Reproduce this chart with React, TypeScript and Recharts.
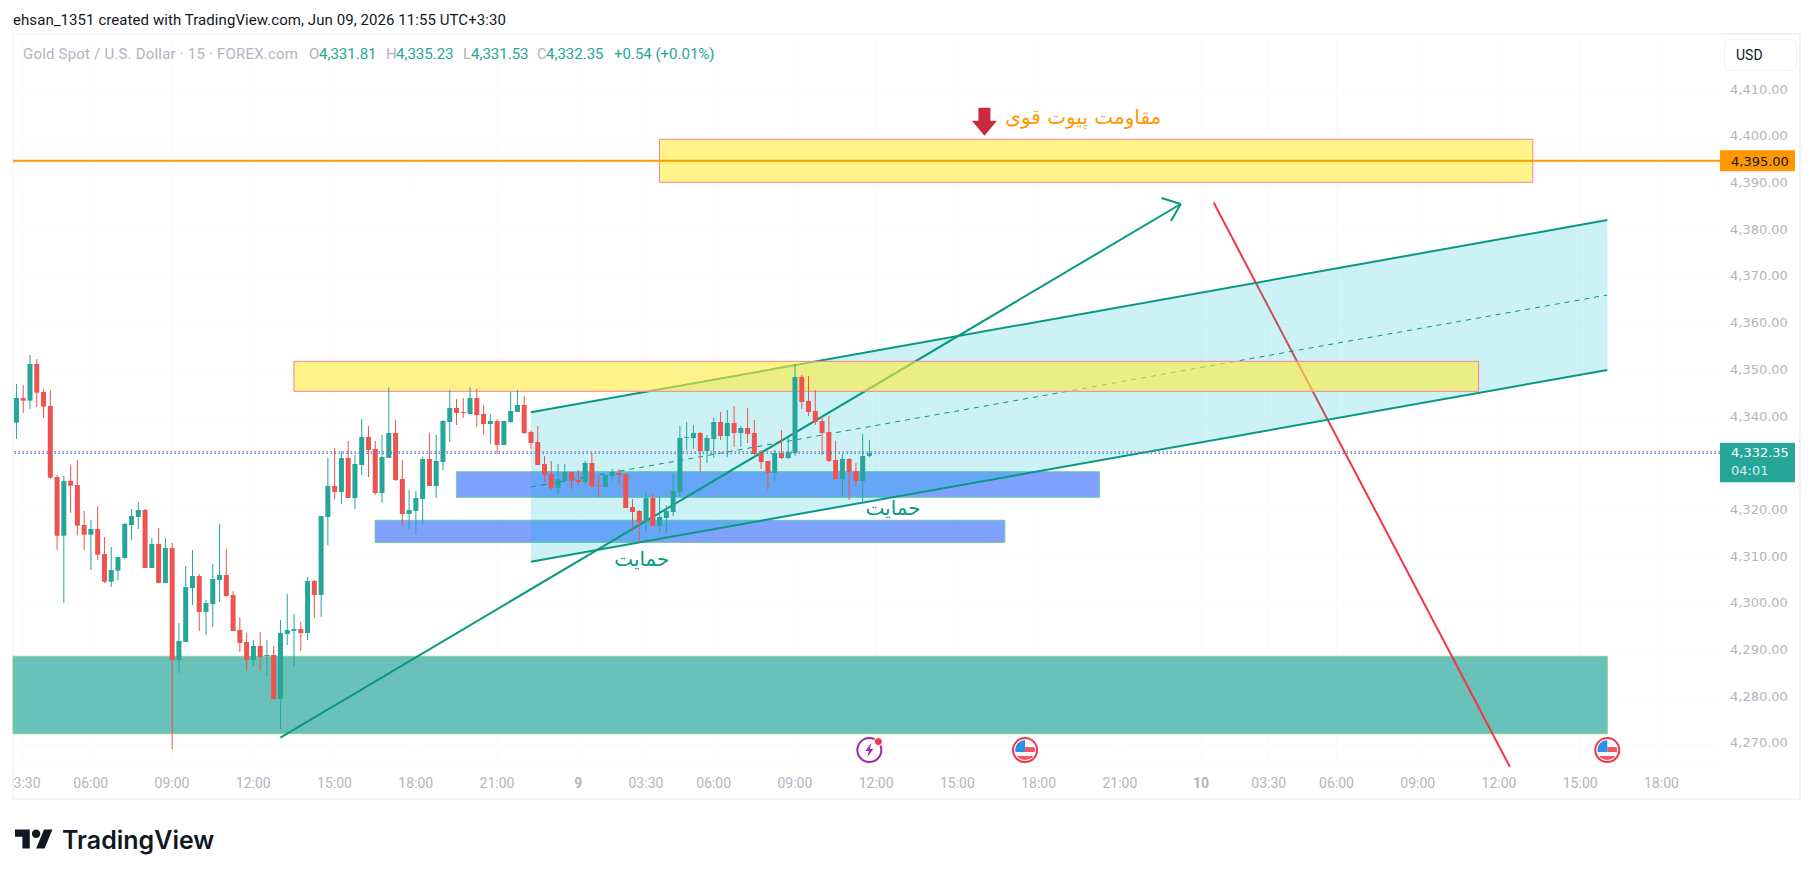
import React from "react";
import {
  ComposedChart,
  Bar,
  Area,
  XAxis,
  YAxis,
  CartesianGrid,
  ReferenceArea,
  ReferenceLine,
  ReferenceDot,
} from "recharts";

const opens = [
  4338.91, 4344.19, 4343.62, 4351.47, 4345.47, 4342.48, 4327.27, 4314.71, 4326.42, 4325.56,
  4316.99, 4314.92, 4316.14, 4310.78, 4304.86, 4307.22, 4309.93, 4316.99, 4318.71, 4320.21,
  4307.79, 4312.93, 4304.57, 4312.07, 4288.09, 4291.94, 4303.5, 4306.07, 4298.36, 4300.08,
  4305.22, 4306.29, 4302.0, 4294.51, 4291.94, 4288.09, 4291.08, 4288.94, 4289.16, 4279.73,
  4293.65, 4294.3, 4294.72, 4293.87, 4305.0, 4302.0, 4318.71, 4325.35, 4324.06, 4331.34,
  4322.78, 4329.84, 4335.84, 4333.27, 4323.85, 4331.34, 4336.69, 4326.84, 4319.35, 4319.99,
  4322.56, 4331.13, 4325.35, 4330.48, 4339.05, 4342.05, 4341.19, 4340.76, 4344.19, 4340.76,
  4338.62, 4339.26, 4334.13, 4339.05, 4341.19, 4342.69, 4336.91, 4334.77, 4330.06, 4327.92,
  4324.92, 4326.42, 4328.34, 4326.63, 4326.2, 4330.27, 4325.56, 4325.13, 4327.49, 4328.13,
  4327.92, 4320.85, 4319.99, 4317.64, 4322.78, 4316.78, 4318.49, 4319.78, 4324.06, 4335.7,
  4335.62, 4336.69, 4332.84, 4335.41, 4339.05, 4336.05, 4338.84, 4336.69, 4337.77, 4336.69,
  4332.41, 4330.7, 4328.13, 4332.41, 4331.34, 4332.41, 4348.69, 4343.55, 4341.41, 4339.26,
  4336.91, 4330.91, 4326.84, 4331.13, 4328.56, 4326.42, 4331.81,
];
const highs = [
  4347.19, 4346.97, 4353.4, 4352.54, 4346.12, 4345.9, 4327.7, 4327.49, 4329.84, 4330.91,
  4319.99, 4318.06, 4321.06, 4314.42, 4312.28, 4310.14, 4317.42, 4320.42, 4321.92, 4320.42,
  4314.21, 4316.35, 4314.21, 4313.14, 4296.01, 4308.21, 4311.64, 4306.5, 4300.93, 4308.64,
  4317.21, 4311.85, 4302.86, 4297.29, 4293.87, 4292.37, 4294.08, 4292.37, 4291.08, 4296.65,
  4302.22, 4297.94, 4296.22, 4305.86, 4305.22, 4318.92, 4331.34, 4333.48, 4332.84, 4334.98,
  4331.98, 4339.69, 4338.19, 4334.98, 4336.27, 4346.55, 4339.48, 4330.91, 4324.49, 4324.28,
  4331.56, 4336.69, 4336.27, 4339.48, 4345.9, 4343.98, 4344.19, 4346.55, 4346.12, 4342.69,
  4340.76, 4339.69, 4339.26, 4345.47, 4345.9, 4344.62, 4337.34, 4338.19, 4331.77, 4330.7,
  4330.06, 4330.06, 4328.34, 4328.77, 4330.7, 4332.41, 4327.7, 4327.7, 4328.99, 4328.99,
  4327.92, 4322.56, 4320.21, 4323.85, 4323.63, 4323.13, 4321.21, 4328.13, 4338.19, 4339.05,
  4338.41, 4336.91, 4336.27, 4339.91, 4341.19, 4341.62, 4342.48, 4338.19, 4342.05, 4339.48,
  4333.05, 4330.7, 4333.05, 4337.34, 4335.62, 4351.47, 4349.12, 4348.9, 4345.9, 4340.34,
  4340.34, 4334.98, 4332.2, 4331.34, 4330.27, 4336.48, 4335.23,
];
const lows = [
  4335.41, 4340.98, 4341.83, 4342.26, 4339.91, 4326.84, 4311.64, 4300.29, 4319.56, 4314.85,
  4311.64, 4307.36, 4309.5, 4304.57, 4303.72, 4305.22, 4309.71, 4313.78, 4316.14, 4307.79,
  4307.79, 4304.57, 4304.57, 4269.03, 4285.3, 4291.94, 4299.86, 4294.3, 4293.44, 4295.15,
  4300.51, 4301.58, 4294.3, 4289.8, 4285.73, 4286.8, 4285.73, 4284.66, 4279.73, 4273.31,
  4291.3, 4286.59, 4290.01, 4292.37, 4297.08, 4297.29, 4312.71, 4322.56, 4321.49, 4322.78,
  4320.42, 4327.7, 4327.27, 4323.42, 4321.71, 4331.34, 4326.42, 4316.78, 4316.14, 4315.07,
  4317.21, 4325.35, 4322.78, 4328.77, 4334.77, 4338.41, 4339.91, 4340.76, 4337.98, 4336.27,
  4334.34, 4332.2, 4334.13, 4338.84, 4341.19, 4336.48, 4333.27, 4329.84, 4326.2, 4324.49,
  4323.63, 4326.42, 4324.7, 4325.56, 4325.77, 4324.7, 4322.99, 4325.13, 4326.42, 4325.56,
  4320.63, 4315.5, 4313.14, 4315.5, 4316.78, 4315.28, 4315.28, 4318.92, 4322.99, 4333.05,
  4333.27, 4328.34, 4330.27, 4331.34, 4335.2, 4331.56, 4333.7, 4333.7, 4334.55, 4331.98,
  4328.99, 4324.49, 4326.42, 4331.13, 4331.13, 4331.77, 4341.83, 4340.34, 4338.41, 4331.98,
  4330.48, 4326.84, 4323.2, 4322.35, 4325.35, 4321.71, 4331.53,
];
const closes = [
  4344.19, 4343.62, 4351.47, 4345.33, 4342.33, 4327.13, 4314.71, 4326.42, 4325.42, 4316.85,
  4314.92, 4316.14, 4310.64, 4304.86, 4307.36, 4310.14, 4317.21, 4318.92, 4320.21, 4307.79,
  4312.93, 4304.57, 4312.07, 4288.09, 4292.15, 4303.72, 4306.07, 4298.36, 4300.29, 4305.43,
  4306.29, 4301.79, 4294.3, 4291.73, 4288.09, 4291.08, 4288.73, 4289.16, 4279.73, 4293.87,
  4294.51, 4294.72, 4293.87, 4305.0, 4302.0, 4318.92, 4325.35, 4324.06, 4331.34, 4322.78,
  4330.06, 4335.84, 4333.05, 4323.85, 4331.56, 4336.69, 4326.63, 4319.35, 4320.21, 4322.78,
  4331.13, 4325.35, 4330.7, 4339.26, 4342.05, 4340.98, 4340.98, 4344.19, 4340.55, 4338.62,
  4339.26, 4334.13, 4339.26, 4341.41, 4342.69, 4336.69, 4334.55, 4329.84, 4327.7, 4324.92,
  4326.84, 4328.34, 4326.42, 4326.2, 4330.27, 4325.35, 4325.35, 4327.7, 4328.13, 4327.7,
  4320.63, 4319.78, 4317.64, 4322.78, 4316.78, 4318.71, 4319.99, 4324.27, 4335.62, 4335.84,
  4336.69, 4332.84, 4335.62, 4339.05, 4336.05, 4338.84, 4336.69, 4337.77, 4336.48, 4332.2,
  4330.48, 4328.13, 4332.41, 4331.34, 4332.63, 4348.69, 4343.33, 4341.19, 4339.05, 4336.69,
  4330.7, 4326.84, 4331.13, 4328.34, 4326.42, 4331.77, 4332.35,
];

// bar index -> label on the time axis
const timeTicks = [1, 11, 23, 35, 47, 59, 71, 83, 93, 103, 115, 127, 139, 151, 163, 175, 185, 195, 207, 219, 231, 243];
const timeLabels = [
  "03:30", "06:00", "09:00", "12:00", "15:00", "18:00", "21:00", "9", "03:30", "06:00", "09:00",
  "12:00", "15:00", "18:00", "21:00", "10", "03:30", "06:00", "09:00", "12:00", "15:00", "18:00",
];
// 4330 sits behind the last price tag in the original
const priceTicks = [4270, 4280, 4290, 4300, 4310, 4320, 4340, 4350, 4360, 4370, 4380, 4390, 4400, 4410];

const channelX = [76, 235];
const channelLow = [4309.13, 4350.18];
const channelMid = [4325.13, 4366.24];
const channelHigh = [4341.12, 4382.3];

const lastPrice = 4332.35;
const prevClose = 4332.69;
const pivotPrice = 4395;

const UP = "#26a69a";
const DOWN = "#ef5350";
const DRAW_GREEN = "#089981";
const GREY = "#b2b5be";

const rows = opens.map((open, i) => ({
  i,
  open,
  high: highs[i],
  low: lows[i],
  close: closes[i],
  range: [lows[i], highs[i]],
}));

const channelRows = channelX.map((x, k) => ({ i: x, channel: [channelLow[k], channelHigh[k]] }));

const fmt = (v: number) =>
  v.toLocaleString("en-US", { minimumFractionDigits: 2, maximumFractionDigits: 2 });

const Candle = (props: any) => {
  const { x, y, width, height, payload } = props;
  if (!payload) return null;
  const { open, close, high, low } = payload;
  const perUnit = height / (high - low);
  const color = close >= open ? UP : DOWN;
  const bodyTop = y + (high - Math.max(open, close)) * perUnit;
  const bodyH = Math.max(Math.abs(open - close) * perUnit, 1);
  const cx = x + width / 2;
  return (
    <g>
      <rect x={cx - 0.5} y={y} width={1} height={height} fill={color} />
      <rect x={x} y={bodyTop} width={width} height={bodyH} fill={color} />
    </g>
  );
};

const TimeTick = (props: any) => {
  const { x, y, payload } = props;
  const k = timeTicks.indexOf(payload.value);
  const label = timeLabels[k];
  const bold = label.length < 3;
  return (
    <text
      x={x}
      y={y + 13}
      textAnchor="middle"
      fill={GREY}
      fontSize={14}
      fontWeight={bold ? 700 : 400}
      fontFamily="Roboto"
      clipPath="url(#paneClip)"
    >
      {label}
    </text>
  );
};

const PriceTick = (props: any) => {
  const { x, y, payload } = props;
  return (
    <text x={x} y={y + 3} fill={GREY} fontSize={13} fontFamily="'DejaVu Sans'">
      {fmt(payload.value)}
    </text>
  );
};

const PivotTag = (props: any) => {
  const { x, y, width } = props.viewBox;
  const left = x + width;
  return (
    <g>
      <rect x={left} y={y - 10.5} width={75} height={21} fill="#ff9800" />
      <text x={left + 11} y={y + 5} fill="#131722" fontSize={13} fontFamily="'DejaVu Sans'">
        {fmt(pivotPrice)}
      </text>
    </g>
  );
};

const LastTag = (props: any) => {
  const { x, y, width } = props.viewBox;
  const left = x + width;
  return (
    <g>
      <rect x={left} y={y - 10.5} width={75} height={39.5} fill={UP} />
      <text x={left + 11} y={y + 4} fill="#fff" fontSize={13} fontFamily="'DejaVu Sans'">
        {fmt(lastPrice)}
      </text>
      <text x={left + 11} y={y + 22} fill="#d4eeeb" fontSize={13} fontFamily="'DejaVu Sans'">
        04:01
      </text>
    </g>
  );
};

const NoteText = (color: string, size: number, label: string) => (props: any) => (
  <text
    x={props.cx}
    y={props.cy}
    textAnchor="middle"
    dominantBaseline="middle"
    fill={color}
    fontSize={size}
    fontFamily="'DejaVu Sans'"
  >
    {label}
  </text>
);

const DownArrow = (props: any) => {
  const { cx, cy } = props;
  return (
    <path
      d={`M${cx} ${cy} L${cx - 12.5} ${cy - 15} L${cx - 6} ${cy - 15} L${cx - 6} ${cy - 28} L${cx + 6} ${cy - 28} L${cx + 6} ${cy - 15} L${cx + 12.5} ${cy - 15} Z`}
      fill="#c92a3f"
    />
  );
};

const EventIcon = (props: any) => {
  const { cx, cy } = props;
  return (
    <g>
      <circle cx={cx} cy={cy} r={12} fill="#fff" stroke="#9c27b0" strokeWidth={2} />
      <path
        d={`M${cx + 2} ${cy - 7} L${cx - 4} ${cy + 1} L${cx - 0.5} ${cy + 1} L${cx - 2} ${cy + 7} L${cx + 4} ${cy - 1} L${cx + 0.5} ${cy - 1} Z`}
        fill="#9c27b0"
      />
      <circle cx={cx + 9} cy={cy - 8.5} r={4} fill="#f23645" stroke="#fff" strokeWidth={1} />
    </g>
  );
};

const FlagIcon = (props: any) => {
  const { cx, cy } = props;
  const clipId = `flag-${Math.round(cx)}`;
  return (
    <g>
      <clipPath id={clipId}>
        <circle cx={cx} cy={cy} r={10} />
      </clipPath>
      <circle cx={cx} cy={cy} r={12} fill="#fff" stroke="#f23645" strokeWidth={2} />
      <g clipPath={`url(#${clipId})`}>
        <rect x={cx - 10} y={cy - 10} width={20} height={20} fill="#fff" />
        <rect x={cx} y={cy - 3} width={10} height={5} fill="#f7525f" />
        <rect x={cx - 10} y={cy + 6} width={20} height={4} fill="#f7525f" />
        <rect x={cx - 10} y={cy - 10} width={10} height={12} fill="#2f8fe8" />
      </g>
    </g>
  );
};

const TvLogo = () => (
  <div style={{ position: "absolute", left: 15, top: 825, display: "flex", alignItems: "center" }}>
    <svg width={38} height={30} viewBox="0 0 36 28">
      <path d="M14 22H7V11H0V4h14v18zM28 22h-8l7.5-18h8L28 22z" fill="#131722" />
      <circle cx={20} cy={8} r={4} fill="#131722" />
    </svg>
    <span style={{ marginLeft: 9, fontSize: 25, fontWeight: 600, color: "#131722", fontFamily: "Inter" }}>
      TradingView
    </span>
  </div>
);

const Label = ({ left, color, spacing, children }: { left: number; color: string; spacing?: number; children: React.ReactNode }) => (
  <span style={{ position: "absolute", left, top: 45, fontSize: 15, color, letterSpacing: spacing, whiteSpace: "nowrap" }}>{children}</span>
);

const Header = () => (
  <div style={{ fontFamily: "Roboto" }}>
    <span style={{ position: "absolute", left: 13, top: 11, fontSize: 15, letterSpacing: 0.07, color: "#131722", whiteSpace: "nowrap" }}>
      ehsan_1351 created with TradingView.com, Jun 09, 2026 11:55 UTC+3:30
    </span>
    <Label left={23} color={GREY} spacing={0.2}>Gold Spot / U.S. Dollar · 15 · FOREX.com</Label>
    <Label left={309} color={GREY}>O</Label>
    <Label left={319} color={UP}>4,331.81</Label>
    <Label left={386} color={GREY}>H</Label>
    <Label left={396} color={UP}>4,335.23</Label>
    <Label left={463} color={GREY}>L</Label>
    <Label left={471} color={UP}>4,331.53</Label>
    <Label left={537} color={GREY}>C</Label>
    <Label left={546} color={UP}>4,332.35</Label>
    <Label left={614} color={UP}>+0.54 (+0.01%)</Label>
    <div
      style={{
        position: "absolute",
        left: 1724,
        top: 39,
        width: 71,
        height: 30,
        border: "1px solid #f0f3fa",
        borderRadius: 6,
        fontSize: 14,
        lineHeight: "30px",
        color: "#131722",
        textIndent: 11,
        background: "#fff",
      }}
    >
      USD
    </div>
  </div>
);

const trendLine = (
  a: [number, number],
  b: [number, number],
  color: string,
  width: number,
  dash?: string,
) => (
  <ReferenceLine
    segment={[
      { x: a[0], y: a[1] },
      { x: b[0], y: b[1] },
    ]}
    stroke={color}
    strokeWidth={width}
    strokeDasharray={dash}
    ifOverflow="visible"
    zIndex={100}
  />
);

const App = () => {
  return (
    <div style={{ position: "absolute", left: 0, top: 0, width: 1814, height: 877, background: "#fff", overflow: "hidden" }}>
      <div
        style={{
          position: "absolute",
          left: 12,
          top: 33,
          width: 1785,
          height: 763,
          border: "2px solid #f2f3f5",
        }}
      />
      <div style={{ position: "absolute", left: 0, top: 0 }}>
        <ComposedChart
          width={1814}
          height={877}
          data={rows}
          margin={{ top: 34, right: 14, bottom: 77.3, left: 13 }}
          barSize={5}
        >
          <defs>
            <clipPath id="paneClip">
              <rect x={13} y={700} width={1707} height={120} />
            </clipPath>
          </defs>
          <CartesianGrid stroke="#fbfbfc" />
          <XAxis
            dataKey="i"
            type="number"
            domain={[-0.492, 251.65]}
            ticks={timeTicks}
            interval={0}
            allowDataOverflow
            axisLine={false}
            tickLine={false}
            height={33}
            tick={<TimeTick />}
          />
          <YAxis
            orientation="right"
            type="number"
            domain={[4265.24, 4422.13]}
            ticks={priceTicks}
            interval={0}
            allowDataOverflow
            axisLine={false}
            tickLine={false}
            tickSize={0}
            tickMargin={10}
            width={80}
            tick={<PriceTick />}
          />

          <ReferenceArea x1={-0.492} x2={235} y1={4272.3} y2={4288.88} fill="#009688" fillOpacity={0.59} stroke="#8ad08f" strokeWidth={1} ifOverflow="visible" zIndex={100} />
          <ReferenceArea x1={65} x2={160} y1={4322.92} y2={4328.4} fill="#2962ff" fillOpacity={0.6} stroke="#78c8a0" strokeWidth={1} ifOverflow="visible" zIndex={100} />
          <ReferenceArea x1={53} x2={146} y1={4313.29} y2={4318} fill="#2962ff" fillOpacity={0.6} stroke="#6cc4a0" strokeWidth={1} ifOverflow="visible" zIndex={100} />

          {trendLine([176.86, 4386.05], [220.6, 4265.24], "#f23645", 2)}

          <Area
            data={channelRows}
            dataKey="channel"
            type="linear"
            stroke="none"
            fill="#00bcd4"
            fillOpacity={0.2}
            isAnimationActive={false}
            dot={false}
            activeDot={false}
            zIndex={100}
          />
          {trendLine([channelX[0], channelHigh[0]], [channelX[1], channelHigh[1]], DRAW_GREEN, 2)}
          {trendLine([channelX[0], channelLow[0]], [channelX[1], channelLow[1]], DRAW_GREEN, 2)}
          {trendLine([channelX[0], channelMid[0]], [channelX[1], channelMid[1]], DRAW_GREEN, 1, "5 5")}

          {trendLine([39, 4271.45], [172, 4385.73], DRAW_GREEN, 2)}
          {trendLine([169.15, 4387.01], [172, 4385.73], DRAW_GREEN, 2)}
          {trendLine([170.55, 4382.09], [172, 4385.73], DRAW_GREEN, 2)}

          <ReferenceArea x1={95} x2={224} y1={4390.37} y2={4399.58} fill="#ffeb3b" fillOpacity={0.6} stroke="#f7829a" strokeWidth={1} ifOverflow="visible" zIndex={100} />
          <ReferenceArea x1={41} x2={216} y1={4345.62} y2={4352.04} fill="#ffeb3b" fillOpacity={0.6} stroke="#f7829a" strokeWidth={1} ifOverflow="visible" zIndex={100} />

          <Bar dataKey="range" shape={<Candle />} isAnimationActive={false} />

          <ReferenceLine y={prevClose} stroke="#ef5350" strokeDasharray="1.5 2.5" strokeWidth={1} ifOverflow="visible" zIndex={500} />
          <ReferenceLine y={lastPrice} stroke="#2196f3" strokeDasharray="1.5 2.5" strokeWidth={1.5} ifOverflow="visible" zIndex={500} label={<LastTag />} />
          <ReferenceLine y={pivotPrice} stroke="#ff9800" strokeWidth={2} ifOverflow="visible" zIndex={500} label={<PivotTag />} />

          <ReferenceDot x={92.4} y={4309.3} r={0} shape={NoteText(DRAW_GREEN, 20, "حمایت")} />
          <ReferenceDot x={129.5} y={4320.4} r={0} shape={NoteText(DRAW_GREEN, 20, "حمایت")} />
          <ReferenceDot x={157.6} y={4404.14} r={0} shape={NoteText("#ff9800", 20, "مقاومت پیوت قوی")} />
          <ReferenceDot x={143} y={4400.35} r={0} shape={<DownArrow />} />
          <ReferenceDot x={126} y={4268.8} r={0} shape={<EventIcon />} />
          <ReferenceDot x={149} y={4268.8} r={0} shape={<FlagIcon />} />
          <ReferenceDot x={235} y={4268.8} r={0} shape={<FlagIcon />} />
        </ComposedChart>
      </div>
      <Header />
      <TvLogo />
    </div>
  );
};

export default App;
